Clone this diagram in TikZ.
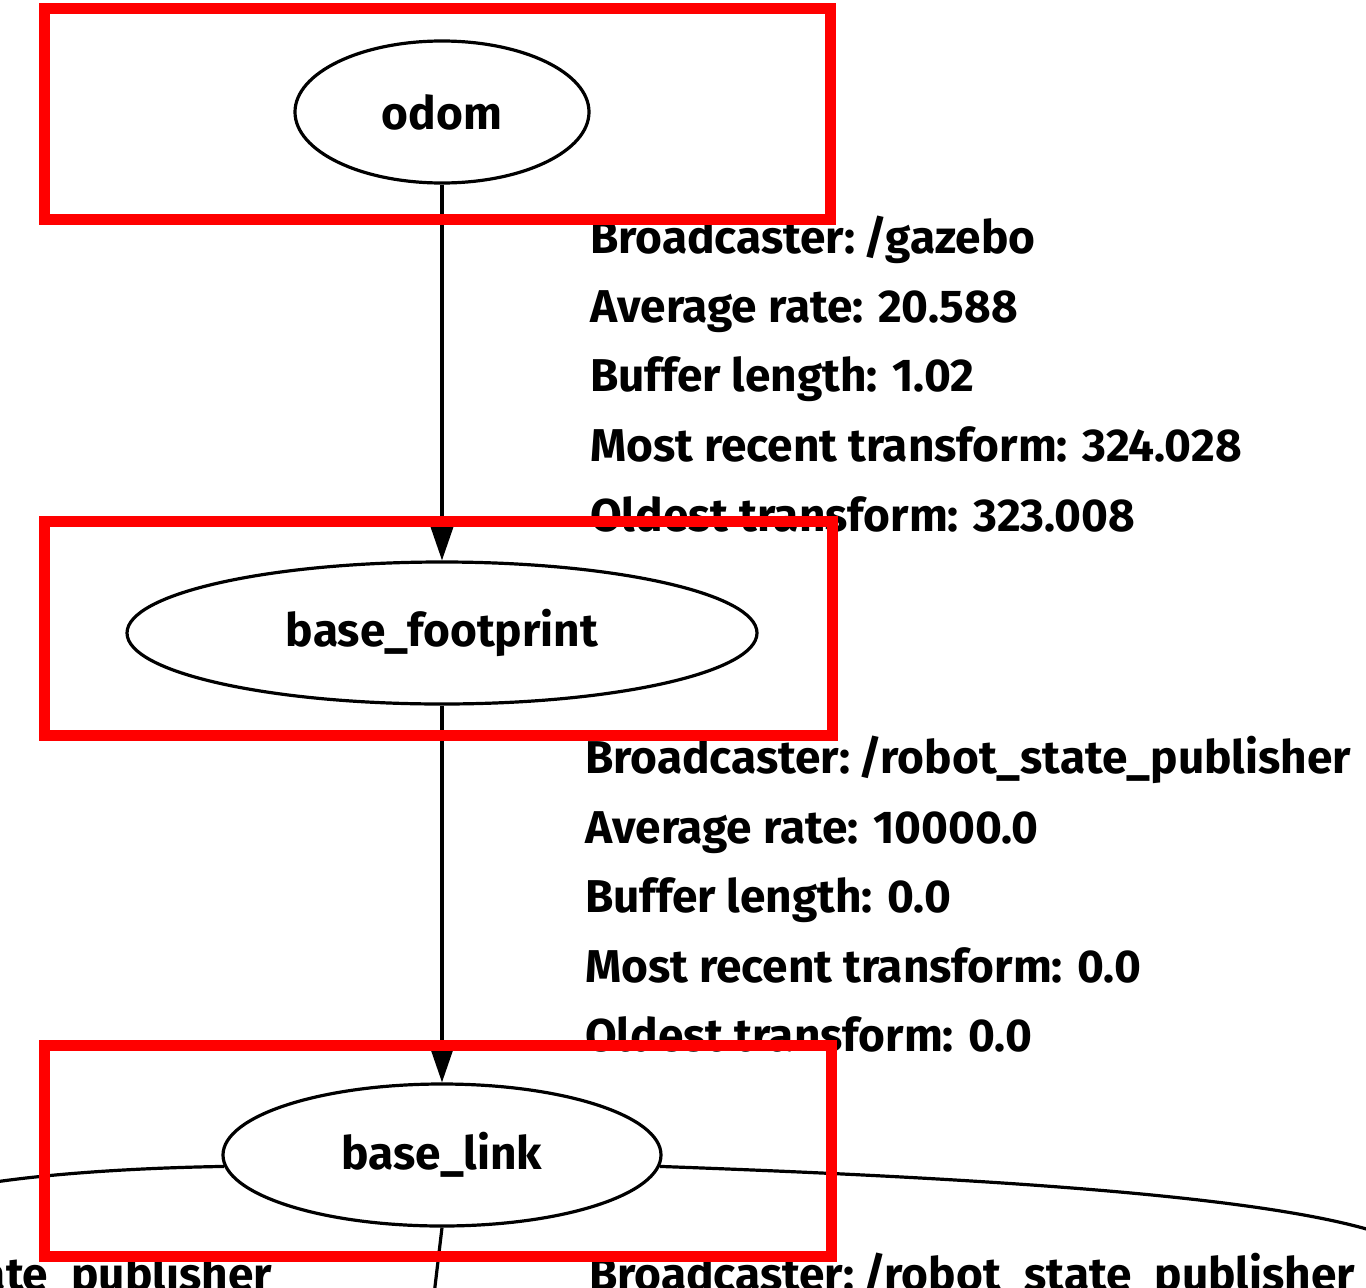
\documentclass[tikz,border=0pt]{standalone}
\usepackage{fontspec}
\setmainfont{Fira Sans}
\usetikzlibrary{shapes.geometric,arrows.meta}
\newcommand{\slsh}{\kern-7pt/}
\begin{document}
\begin{tikzpicture}[x=1pt,y=-1pt,
  frame/.style={draw=red,line width=11pt},
  tfnode/.style={ellipse,draw,line width=3.2pt,inner sep=0pt,font=\fontsize{46}{50}\selectfont\bfseries},
  tfedge/.style={line width=3.2pt,-{Triangle[length=42pt,width=28pt]}},
  plainedge/.style={line width=3.2pt},
  lbl/.style={anchor=base west,inner sep=0pt,font=\fontsize{46}{50}\selectfont\bfseries}]
\useasboundingbox (0,0) rectangle (1366,1288);
\clip (0,0) rectangle (1366,1288);
\fill[white] (0,0) rectangle (1366,1288);
% nodes
\node[tfnode,minimum width=294pt,minimum height=142pt] (odom) at (442,112) {odom};
\node[tfnode,minimum width=630pt,minimum height=142pt] (bfp) at (442,633) {base\_footprint};
\node[tfnode,minimum width=438pt,minimum height=142pt] (blink) at (442,1155) {base\_link};
% edges
\draw[tfedge] (odom) -- (bfp);
\draw[tfedge] (bfp) -- (blink);
\coordinate (lend) at (-5,1182);
\coordinate (rend) at (1370,1230);
\coordinate (bend) at (434,1295);
\draw[plainedge] (blink.183) .. controls (130,1168) and (50,1174) .. (lend);
\draw[plainedge] (blink.-3) .. controls (980,1178) and (1250,1195) .. (rend);
\draw[plainedge] (blink.south) -- (bend);
% labels
\node[lbl] (a1) at (590,253) {Broadcaster: \slsh gazebo};
\node[lbl] (a2) at (590,322) {Average rate: 20.588};
\node[lbl] (a3) at (590,391) {Buffer length: 1.02};
\node[lbl] (a4) at (590,461) {Most recent transform: 324.028};
\node[lbl] (a5) at (590,531) {Oldest transform: 323.008};
\node[lbl] (b1) at (585,773) {Broadcaster: \slsh robot\_state\_publisher};
\node[lbl] (b2) at (585,843) {Average rate: 10000.0};
\node[lbl] (b3) at (585,912) {Buffer length: 0.0};
\node[lbl] (b4) at (585,982) {Most recent transform: 0.0};
\node[lbl] (b5) at (585,1051) {Oldest transform: 0.0};
\node[lbl] (c1) at (589,1290) {Broadcaster: \slsh robot\_state\_publisher};
\node[lbl,anchor=base east] (c0) at (272,1290) {ate\_publisher};
% red frames
\draw[frame] (44,8) rectangle (830,219);
\draw[frame] (44,521) rectangle (832,735);
\draw[frame] (44,1045) rectangle (831,1256);
\end{tikzpicture}
\end{document}
